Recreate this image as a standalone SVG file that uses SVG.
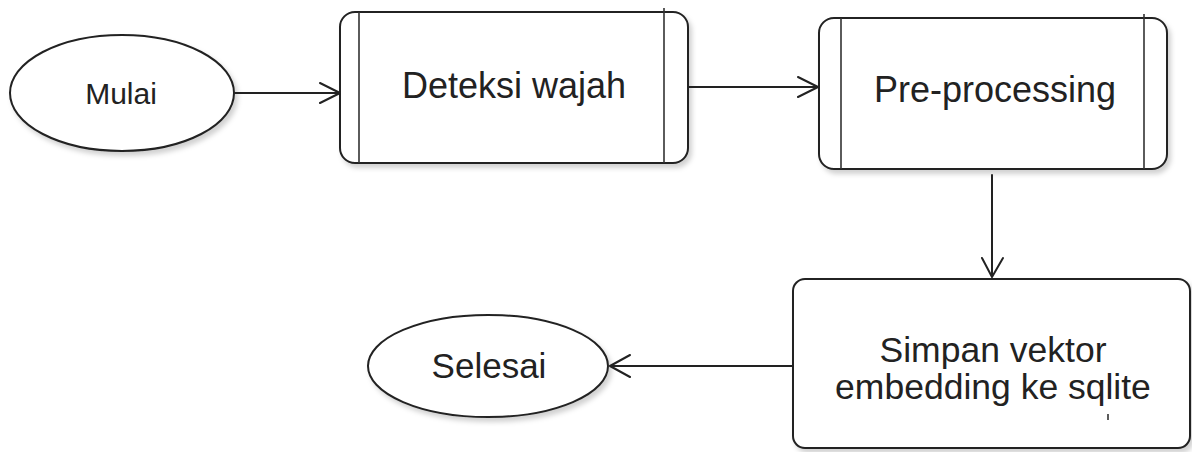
<svg xmlns="http://www.w3.org/2000/svg" width="1192" height="452" viewBox="0 0 1192 452">
<style>
.shape{fill:#fff;stroke:#222;stroke-width:2;}
.ln{fill:none;stroke:#222;stroke-width:2;stroke-linecap:round;stroke-linejoin:round;}
.thin{fill:none;stroke:#333;stroke-width:1.6;}
text{font-family:"Liberation Sans",Arial,sans-serif;fill:#222;text-anchor:middle;}
</style>
<defs>
<filter id="sh" x="-10%" y="-10%" width="125%" height="130%">
<feDropShadow dx="3" dy="4" stdDeviation="2.5" flood-color="#000" flood-opacity="0.18"/>
</filter>
</defs>
<rect width="1192" height="452" fill="#fff"/>
<g id="mulai">
<ellipse class="shape" filter="url(#sh)" cx="122" cy="93" rx="112" ry="58"/>
<text x="121" y="104" font-size="30">Mulai</text>
</g>
<g id="deteksi">
<rect class="shape" filter="url(#sh)" x="340" y="12" width="348" height="151" rx="15"/>
<line class="thin" x1="359" y1="12" x2="359" y2="163"/>
<line class="thin" x1="664" y1="8" x2="664" y2="163"/>
<text x="514" y="98" font-size="36">Deteksi wajah</text>
</g>
<g id="preprocessing">
<rect class="shape" filter="url(#sh)" x="819" y="18" width="348" height="151" rx="15"/>
<line class="thin" x1="841" y1="18" x2="841" y2="169"/>
<line class="thin" x1="1144" y1="14" x2="1144" y2="169"/>
<text x="995" y="102" font-size="36">Pre-processing</text>
</g>
<g id="simpan">
<rect class="shape" filter="url(#sh)" x="793" y="279" width="397" height="169" rx="12"/>
<text x="993" y="362" font-size="35.5">Simpan vektor</text>
<text x="993" y="399" font-size="35.5">embedding ke sqlite</text>
<line class="thin" x1="1108" y1="414" x2="1108" y2="420"/>
</g>
<g id="selesai">
<ellipse class="shape" filter="url(#sh)" cx="488" cy="366" rx="120" ry="51"/>
<text x="489" y="378" font-size="35">Selesai</text>
</g>
<g id="connectors">
<path class="ln" d="M234 93 L339 93 M320 83 L340 93 L320 103"/>
<path class="ln" d="M689 87 L817 87 M798 77 L818 87 L798 97"/>
<path class="ln" d="M992 175 L992 276 M982 258 L992 277 L1003 258"/>
<path class="ln" d="M792 366 L611 366 M630 355 L610 366 L630 377"/>
</g>
</svg>
